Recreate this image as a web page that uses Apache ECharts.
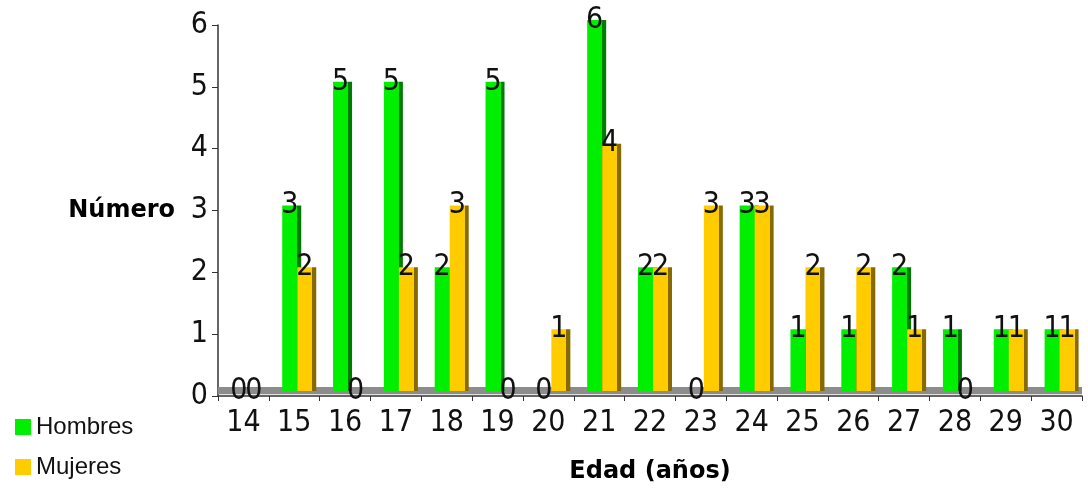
<!DOCTYPE html>
<html>
<head>
<meta charset="utf-8">
<script src="https://cdn.jsdelivr.net/npm/echarts@6/dist/echarts.min.js"></script>
<style>html,body{margin:0;padding:0;background:#fff;}#c{width:1088px;height:495px;}</style>
</head>
<body>
<div id="c"></div>
<script>
const categories = ['14','15','16','17','18','19','20','21','22','23','24','25','26','27','28','29','30'];
const hombres = [0,3,5,5,2,5,0,6,2,0,3,1,1,2,1,1,1];
const mujeres = [0,2,0,2,3,0,1,4,2,3,3,2,2,1,0,1,1];
const yTicks = [0,1,2,3,4,5,6];

const numFont = '"Liberation Sans Narrow", "DejaVu Sans Condensed", "Liberation Sans", sans-serif';
function face(main, dark) {
  return {type:'linear', x:0, y:0, x2:1, y2:0, colorStops:[
    {offset:0, color:main},{offset:0.79, color:main},{offset:0.79, color:dark},{offset:1, color:dark}]};
}
const labelCfg = {show:true, position:'top', distance:0, offset:[-2,15], color:'#111', fontFamily:numFont, fontSize:30};

const chart = echarts.init(document.getElementById('c'));
chart.setOption({
  animation:false,
  backgroundColor:'#fff',
  legend:{
    data:[{name:'Hombres', itemStyle:{color:'#00ee00'}},{name:'Mujeres', itemStyle:{color:'#ffcc00'}}],
    orient:'vertical', left:10, top:410,
    icon:'rect', itemWidth:16, itemHeight:16, itemGap:16,
    textStyle:{fontFamily:'"Liberation Sans", Arial, sans-serif', fontSize:24, color:'#111'}
  },
  grid:[
    {left:218, right:6, top:25, bottom:99},
    {left:223, right:1, top:20, bottom:104}
  ],
  xAxis:[
    {type:'category', gridIndex:0, data:categories, boundaryGap:true,
     axisLine:{lineStyle:{color:'#333', width:1.5}},
     axisTick:{show:true, length:5, lineStyle:{color:'#333'}},
     axisLabel:{fontFamily:numFont, fontSize:30, color:'#111', margin:12},
     name:'Edad (años)', nameLocation:'middle', nameGap:64,
     nameTextStyle:{fontFamily:'"DejaVu Sans", sans-serif', fontWeight:'bold', fontSize:24, color:'#000'}},
    {type:'category', gridIndex:1, data:categories, show:false}
  ],
  yAxis:[
    {type:'value', gridIndex:0, min:0, max:6, interval:1,
     axisLine:{show:true, lineStyle:{color:'#333', width:1.5}},
     axisTick:{show:true, length:6, lineStyle:{color:'#333'}},
     splitLine:{show:false},
     axisLabel:{fontFamily:numFont, fontSize:30, color:'#111', margin:10,
       formatter:function(v){return yTicks.indexOf(v)>=0 ? String(v) : '';}},
     name:'Número', nameLocation:'middle', nameRotate:0, nameGap:43,
     nameTextStyle:{fontFamily:'"DejaVu Sans", sans-serif', fontWeight:'bold', fontSize:24, color:'#000'}},
    {type:'value', gridIndex:1, min:0, max:6, interval:1, show:false}
  ],
  series:[
    {name:'floor', type:'line', xAxisIndex:0, yAxisIndex:0, data:[], silent:true,
     markArea:{silent:true, itemStyle:{color:'#8c8c8c', opacity:1},
       data:[[{yAxis:0.03},{yAxis:0.145}]]}},
    {name:'Hombres', type:'bar', xAxisIndex:1, yAxisIndex:1, data:hombres,
     barWidth:19, barGap:'-21%',
     itemStyle:{color:face('#00ee00','#007a00')}, label:labelCfg},
    {name:'Mujeres', type:'bar', xAxisIndex:1, yAxisIndex:1, data:mujeres,
     barWidth:19, barGap:'-21%',
     itemStyle:{color:face('#ffcc00','#866a00')}, label:labelCfg}
  ]
});
</script>
</body>
</html>
